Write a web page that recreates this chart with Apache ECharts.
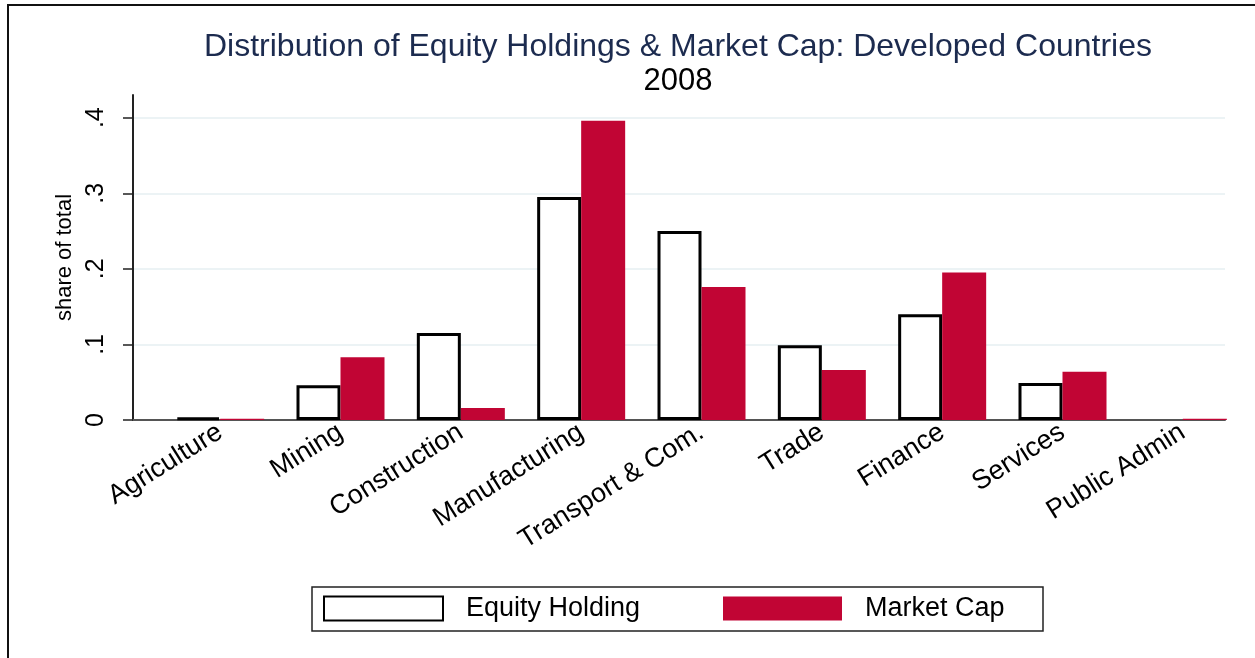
<!DOCTYPE html>
<html>
<head>
<meta charset="utf-8">
<script src="https://cdn.jsdelivr.net/npm/echarts/dist/echarts.min.js"></script>
<style>
html,body{margin:0;padding:0;background:#fff;}
#c{width:1255px;height:658px;}
</style>
</head>
<body>
<div id="c"></div>
<script>
const categories = ['Agriculture', 'Mining', 'Construction', 'Manufacturing', 'Transport & Com.', 'Trade', 'Finance', 'Services', 'Public Admin'];
const equityHolding = [0.003, 0.046, 0.115, 0.295, 0.250, 0.099, 0.140, 0.049, null];
const marketCap = [0.0015, 0.083, 0.016, 0.396, 0.176, 0.066, 0.195, 0.064, 0.0015];
const yTicks = [0, 0.1, 0.2, 0.3, 0.4];
const yTickLabels = ['0', '.1', '.2', '.3', '.4'];

const FONT = "'Liberation Sans', Arial, Helvetica, sans-serif";
const chart = echarts.init(document.getElementById('c'), null, {renderer: 'canvas'});

function tickLabel(v) {
  const i = yTicks.findIndex(t => Math.abs(t - v) < 1e-9);
  return i >= 0 ? yTickLabels[i] : '';
}

const option = {
  backgroundColor: '#fff',
  animation: false,
  textStyle: {fontFamily: FONT},
  graphic: [{
    type: 'rect', silent: true, z: -10,
    shape: {x: 8, y: 5, width: 1300, height: 700},
    style: {fill: 'none', stroke: '#111', lineWidth: 2}
  }],
  title: {
    text: 'Distribution of Equity Holdings & Market Cap: Developed Countries',
    subtext: '2008',
    left: 678,
    textAlign: 'center',
    top: 31,
    padding: 0,
    itemGap: 3,
    textStyle: {fontFamily: FONT, fontSize: 32, fontWeight: 'normal', color: '#1c2b4f'},
    subtextStyle: {fontFamily: FONT, fontSize: 31, color: '#000'}
  },
  legend: {
    left: 312,
    top: 587,
    orient: 'horizontal',
    icon: 'rect',
    padding: [8, 3, 9, 11],
    borderColor: '#222',
    borderWidth: 1.5,
    itemWidth: 119,
    itemHeight: 24,
    itemGap: 82,
    textStyle: {fontFamily: FONT, fontSize: 27, color: '#000', width: 175, lineHeight: 26, padding: [0, 0, 0, 18]},
    data: ['Equity Holding', 'Market Cap']
  },
  grid: [
    {left: 133, right: 30, top: 95, bottom: 238},
    {left: 160, right: 12, top: 95, bottom: 238}
  ],
  xAxis: [
    {
      gridIndex: 0, type: 'value', min: 0, max: 1,
      axisLine: {show: true, lineStyle: {color: '#555', width: 2}},
      axisTick: {show: false}, axisLabel: {show: false}, splitLine: {show: false}
    },
    {
      gridIndex: 1, type: 'category', data: categories,
      axisLine: {show: false}, axisTick: {show: false},
      axisLabel: {rotate: 32, margin: 10, fontSize: 27, color: '#000', fontFamily: FONT, interval: 0}
    }
  ],
  yAxis: [
    {
      gridIndex: 0, type: 'value', min: 0, max: 0.43,
      name: 'share of total', nameLocation: 'middle', nameGap: 57,
      nameTextStyle: {fontFamily: FONT, fontSize: 22, color: '#000'},
      axisLine: {show: true, lineStyle: {color: '#222', width: 2}},
      axisTick: {show: true, length: 10, lineStyle: {color: '#222', width: 1.5}, customValues: yTicks},
      axisLabel: {rotate: 90, margin: 24, fontSize: 25, color: '#000', fontFamily: FONT, customValues: yTicks, formatter: tickLabel},
      splitLine: {show: true, lineStyle: {color: '#e6eff2', width: 1.5}}
    },
    {
      gridIndex: 1, type: 'value', min: 0, max: 0.43, show: false,
      splitLine: {show: false}
    }
  ],
  series: [
    {
      name: 'Equity Holding', type: 'bar', xAxisIndex: 1, yAxisIndex: 1,
      data: equityHolding, barWidth: 44, barGap: '0%',
      itemStyle: {color: '#fff', borderColor: '#000', borderWidth: 3}
    },
    {
      name: 'Market Cap', type: 'bar', xAxisIndex: 1, yAxisIndex: 1,
      data: marketCap, barWidth: 44, barGap: '0%',
      itemStyle: {color: '#c10534'}
    }
  ]
};
chart.setOption(option);
</script>
</body>
</html>
